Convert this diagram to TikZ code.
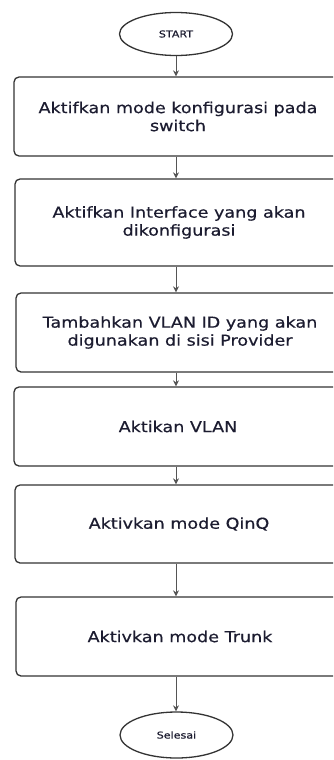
\documentclass[tikz,border=0pt]{standalone}
\usepackage{fontspec}
\setmainfont[FakeStretch=1.17,FakeBold=0.6]{DejaVu Sans}
\usetikzlibrary{shapes.geometric,arrows.meta}

\definecolor{linegray}{HTML}{333333}
\definecolor{arrowgray}{HTML}{555555}
\definecolor{textnavy}{HTML}{1C1C30}

\begin{document}
\begin{tikzpicture}[x=1pt,y=-1pt,every node/.style={align=center,text=textnavy}]
  \tikzset{
    stepbox/.style={draw=linegray,line width=1.3pt,rounded corners=5pt,
      minimum width=328pt,minimum height=79pt,
      font=\fontsize{15}{18}\selectfont},
    terminal/.style={draw=linegray,line width=1.3pt,ellipse,
      minimum width=113pt,minimum height=43pt,font=\fontsize{9.5}{11}\selectfont},
    flow/.style={draw=arrowgray,line width=1pt,-{Stealth[length=6pt,width=6pt]}}
  }
  \clip (0,0) rectangle (333,760);

  \node[terminal] (start) at (176,34) {START};
  \node[stepbox] (mode) at (178,116.5) {Aktifkan mode konfigurasi pada\\switch};
  \node[stepbox,minimum height=87pt] (iface) at (179,222.5) {Aktifkan Interface yang akan\\dikonfigurasi};
  \node[stepbox] (vlanid) at (180,332.5) {Tambahkan VLAN ID yang akan\\digunakan di sisi Provider};
  \node[stepbox] (vlan) at (178,426.5) {Aktikan VLAN};
  \node[stepbox,minimum height=78pt] (qinq) at (179,524) {Aktivkan mode QinQ};
  \node[stepbox] (trunk) at (180,636.5) {Aktivkan mode Trunk};
  \node[terminal,minimum height=46pt] (end) at (176.5,735) {Selesai};

  % alur
  \foreach \a/\b in {start/mode,mode/iface,iface/vlanid,vlanid/vlan,vlan/qinq,qinq/trunk,trunk/end}
    \draw[flow] (\a.south -| start) -- (\b.north -| start);
\end{tikzpicture}
\end{document}
